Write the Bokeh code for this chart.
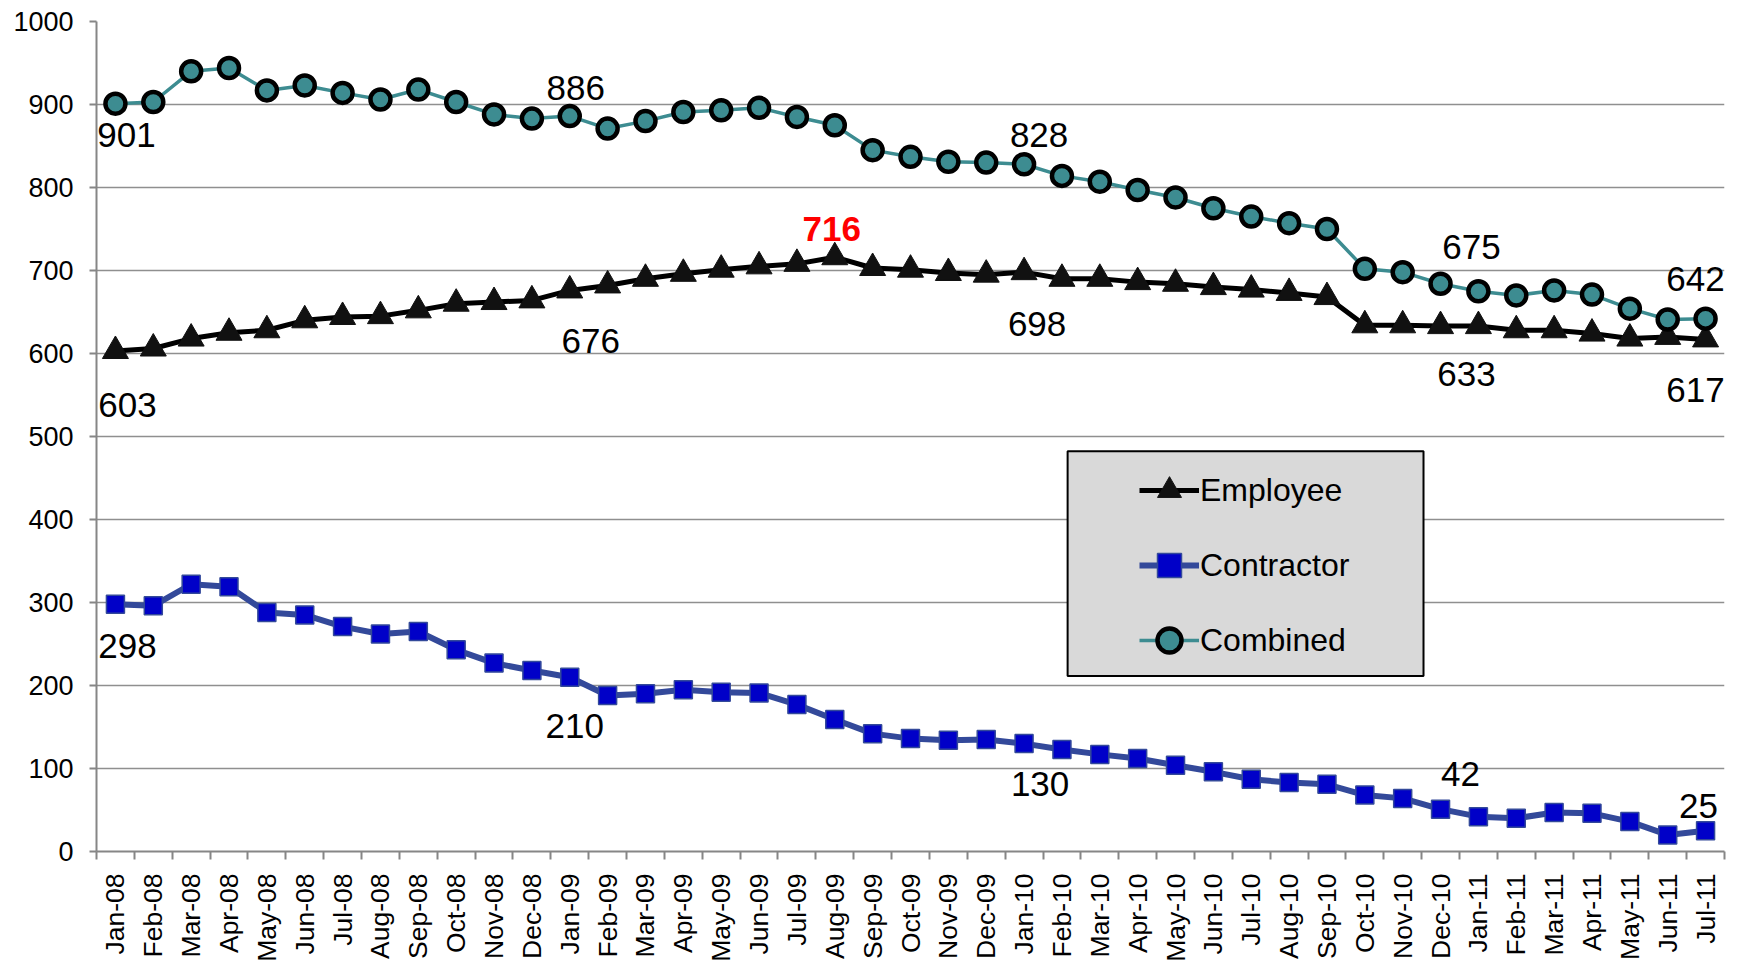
import math
from bokeh.plotting import figure
from bokeh.models import (ColumnDataSource, FixedTicker, CustomJSTickFormatter, Legend,
                          LegendItem, BoxAnnotation, Range1d)
from bokeh.core.properties import value
from bokeh.embed import file_html
from bokeh.resources import INLINE

months = ["Jan-08", "Feb-08", "Mar-08", "Apr-08", "May-08", "Jun-08", "Jul-08", "Aug-08",
          "Sep-08", "Oct-08", "Nov-08", "Dec-08",
          "Jan-09", "Feb-09", "Mar-09", "Apr-09", "May-09", "Jun-09", "Jul-09", "Aug-09",
          "Sep-09", "Oct-09", "Nov-09", "Dec-09",
          "Jan-10", "Feb-10", "Mar-10", "Apr-10", "May-10", "Jun-10", "Jul-10", "Aug-10",
          "Sep-10", "Oct-10", "Nov-10", "Dec-10",
          "Jan-11", "Feb-11", "Mar-11", "Apr-11", "May-11", "Jun-11", "Jul-11"]

employee = [603, 606, 618, 625, 628, 640, 644, 645, 652, 660, 662, 664,
            676, 682, 690, 696, 701, 705, 708, 716, 703, 701, 697, 695,
            698, 690, 690, 686, 684, 680, 677, 673, 668, 634, 634, 633,
            633, 628, 628, 624, 618, 620, 617]
contractor = [298, 296, 322, 319, 288, 285, 271, 262, 265, 243, 227, 218,
              210, 188, 190, 195, 192, 191, 177, 159, 142, 136, 134, 135,
              130, 123, 117, 112, 104, 96, 87, 83, 81, 68, 64, 51,
              42, 40, 47, 46, 36, 20, 25]
combined = [901, 903, 940, 944, 917, 923, 914, 906, 918, 903, 888, 883,
            886, 871, 880, 891, 893, 896, 885, 875, 845, 837, 831, 830,
            828, 814, 807, 797, 788, 775, 765, 757, 750, 702, 698, 684,
            675, 670, 676, 671, 654, 641, 642]

labelled_idx = [0, 12, 24, 36, 42]
peak_idx = 19
y_ticks = list(range(0, 1001, 100))

FONT = "Liberation Sans"
GRID = "#8f8f8f"
AXIS = "#868686"
TEAL = "#3d8c91"
BLUE_LINE = "#33499a"
BLUE_FILL = "#0000c8"

n = len(months)
xs = [i + 0.5 for i in range(n)]

p = figure(width=1738, height=964, x_range=Range1d(0, n), y_range=Range1d(0, 1000),
           output_backend="svg", toolbar_location=None,
           min_border_left=96, min_border_right=14, min_border_top=21, min_border_bottom=112)
p.outline_line_color = None
p.background_fill_color = "white"
p.border_fill_color = "white"

# axes
p.yaxis.ticker = FixedTicker(ticks=y_ticks)
p.ygrid.ticker = FixedTicker(ticks=y_ticks)
p.ygrid.grid_line_color = GRID
p.ygrid.grid_line_width = 1.6
p.xgrid.visible = False
p.yaxis.axis_line_color = AXIS
p.yaxis.axis_line_width = 2
p.yaxis.major_tick_line_color = AXIS
p.yaxis.major_tick_line_width = 2
p.yaxis.major_tick_out = 7
p.yaxis.major_tick_in = 0
p.yaxis.minor_tick_line_color = None
p.yaxis.major_label_standoff = 16
p.yaxis.major_label_text_font = FONT
p.yaxis.major_label_text_font_size = "27px"
p.yaxis.major_label_text_color = "black"

p.xaxis.ticker = FixedTicker(ticks=xs, minor_ticks=list(range(n + 1)))
p.xaxis.formatter = CustomJSTickFormatter(args=dict(labels=months),
                                          code="return labels[Math.floor(tick)];")
p.xaxis.axis_line_color = AXIS
p.xaxis.axis_line_width = 2
p.xaxis.major_tick_line_color = None
p.xaxis.major_tick_out = 8
p.xaxis.major_tick_in = 0
p.xaxis.minor_tick_line_color = AXIS
p.xaxis.minor_tick_line_width = 2
p.xaxis.minor_tick_out = 8
p.xaxis.minor_tick_in = 0
p.xaxis.major_label_orientation = math.pi / 2
p.xaxis.major_label_standoff = 14
p.xaxis.major_label_text_font = FONT
p.xaxis.major_label_text_font_size = "26.5px"
p.xaxis.major_label_text_color = "black"

src = ColumnDataSource(dict(x=xs, emp=employee, con=contractor, comb=combined))

emp_line = p.line("x", "emp", source=src, line_color="black", line_width=5)
emp_sc = p.scatter("x", "emp", source=src, marker="triangle", size=26,
                   fill_color="#111111", line_color="#111111", line_width=1)
con_line = p.line("x", "con", source=src, line_color=BLUE_LINE, line_width=6)
con_sc = p.scatter("x", "con", source=src, marker="square", size=18,
                   fill_color=BLUE_FILL, line_color=BLUE_LINE, line_width=1.5)
comb_line = p.line("x", "comb", source=src, line_color=TEAL, line_width=3.5)
comb_sc = p.scatter("x", "comb", source=src, marker="circle", size=20,
                    fill_color=TEAL, line_color="black", line_width=4.5)

# data labels (offsets in screen pixels)
label_offsets = {
    "comb": [(11, 31), (6, -28), (15, -29), (-7, -44), (-10, -40)],
    "emp": [(12, 54), (21, 51), (13, 52), (-12, 48), (-10, 51)],
    "con": [(12, 42), (5, 49), (16, 40), (-18, -43), (-7, -25)],
}
series_vals = {"comb": combined, "emp": employee, "con": contractor}
lx, ly, lt, ldx, ldy = [], [], [], [], []
for key, vals in series_vals.items():
    for i, (dx, dy) in zip(labelled_idx, label_offsets[key]):
        lx.append(xs[i]); ly.append(vals[i]); lt.append(str(vals[i]))
        ldx.append(dx); ldy.append(dy)
lab_src = ColumnDataSource(dict(x=lx, y=ly, text=lt, dx=ldx, dy=ldy))
p.text("x", "y", text="text", source=lab_src, x_offset="dx", y_offset="dy",
       text_font=value(FONT), text_font_size=value("35px"), text_color="black",
       text_align="center", text_baseline="middle")

peak_src = ColumnDataSource(dict(x=[xs[peak_idx]], y=[employee[peak_idx]],
                                 text=[str(employee[peak_idx])]))
p.text("x", "y", text="text", source=peak_src, x_offset=-3, y_offset=-28,
       text_font=value(FONT), text_font_size=value("35px"), text_font_style="bold",
       text_color="#ff0000", text_align="center", text_baseline="middle")

# legend box + legend
box = BoxAnnotation(left=25.65, right=35.05, top=482.1, bottom=211.4,
                    fill_color="#d9d9d9", fill_alpha=1.0,
                    line_color="black", line_alpha=1.0, line_width=2)
p.add_layout(box)

legend = Legend(items=[LegendItem(label="Employee", renderers=[emp_line, emp_sc]),
                       LegendItem(label="Contractor", renderers=[con_line, con_sc]),
                       LegendItem(label="Combined", renderers=[comb_line, comb_sc])],
                location=(1043, 181), orientation="vertical", padding=0, margin=0,
                spacing=15, glyph_width=60, glyph_height=60, label_height=60,
                label_standoff=1, label_text_font=FONT, label_text_font_size="32px",
                label_text_color="black", border_line_color=None,
                background_fill_alpha=0)
p.add_layout(legend)

open("out.html", "w").write(file_html(p, INLINE))
